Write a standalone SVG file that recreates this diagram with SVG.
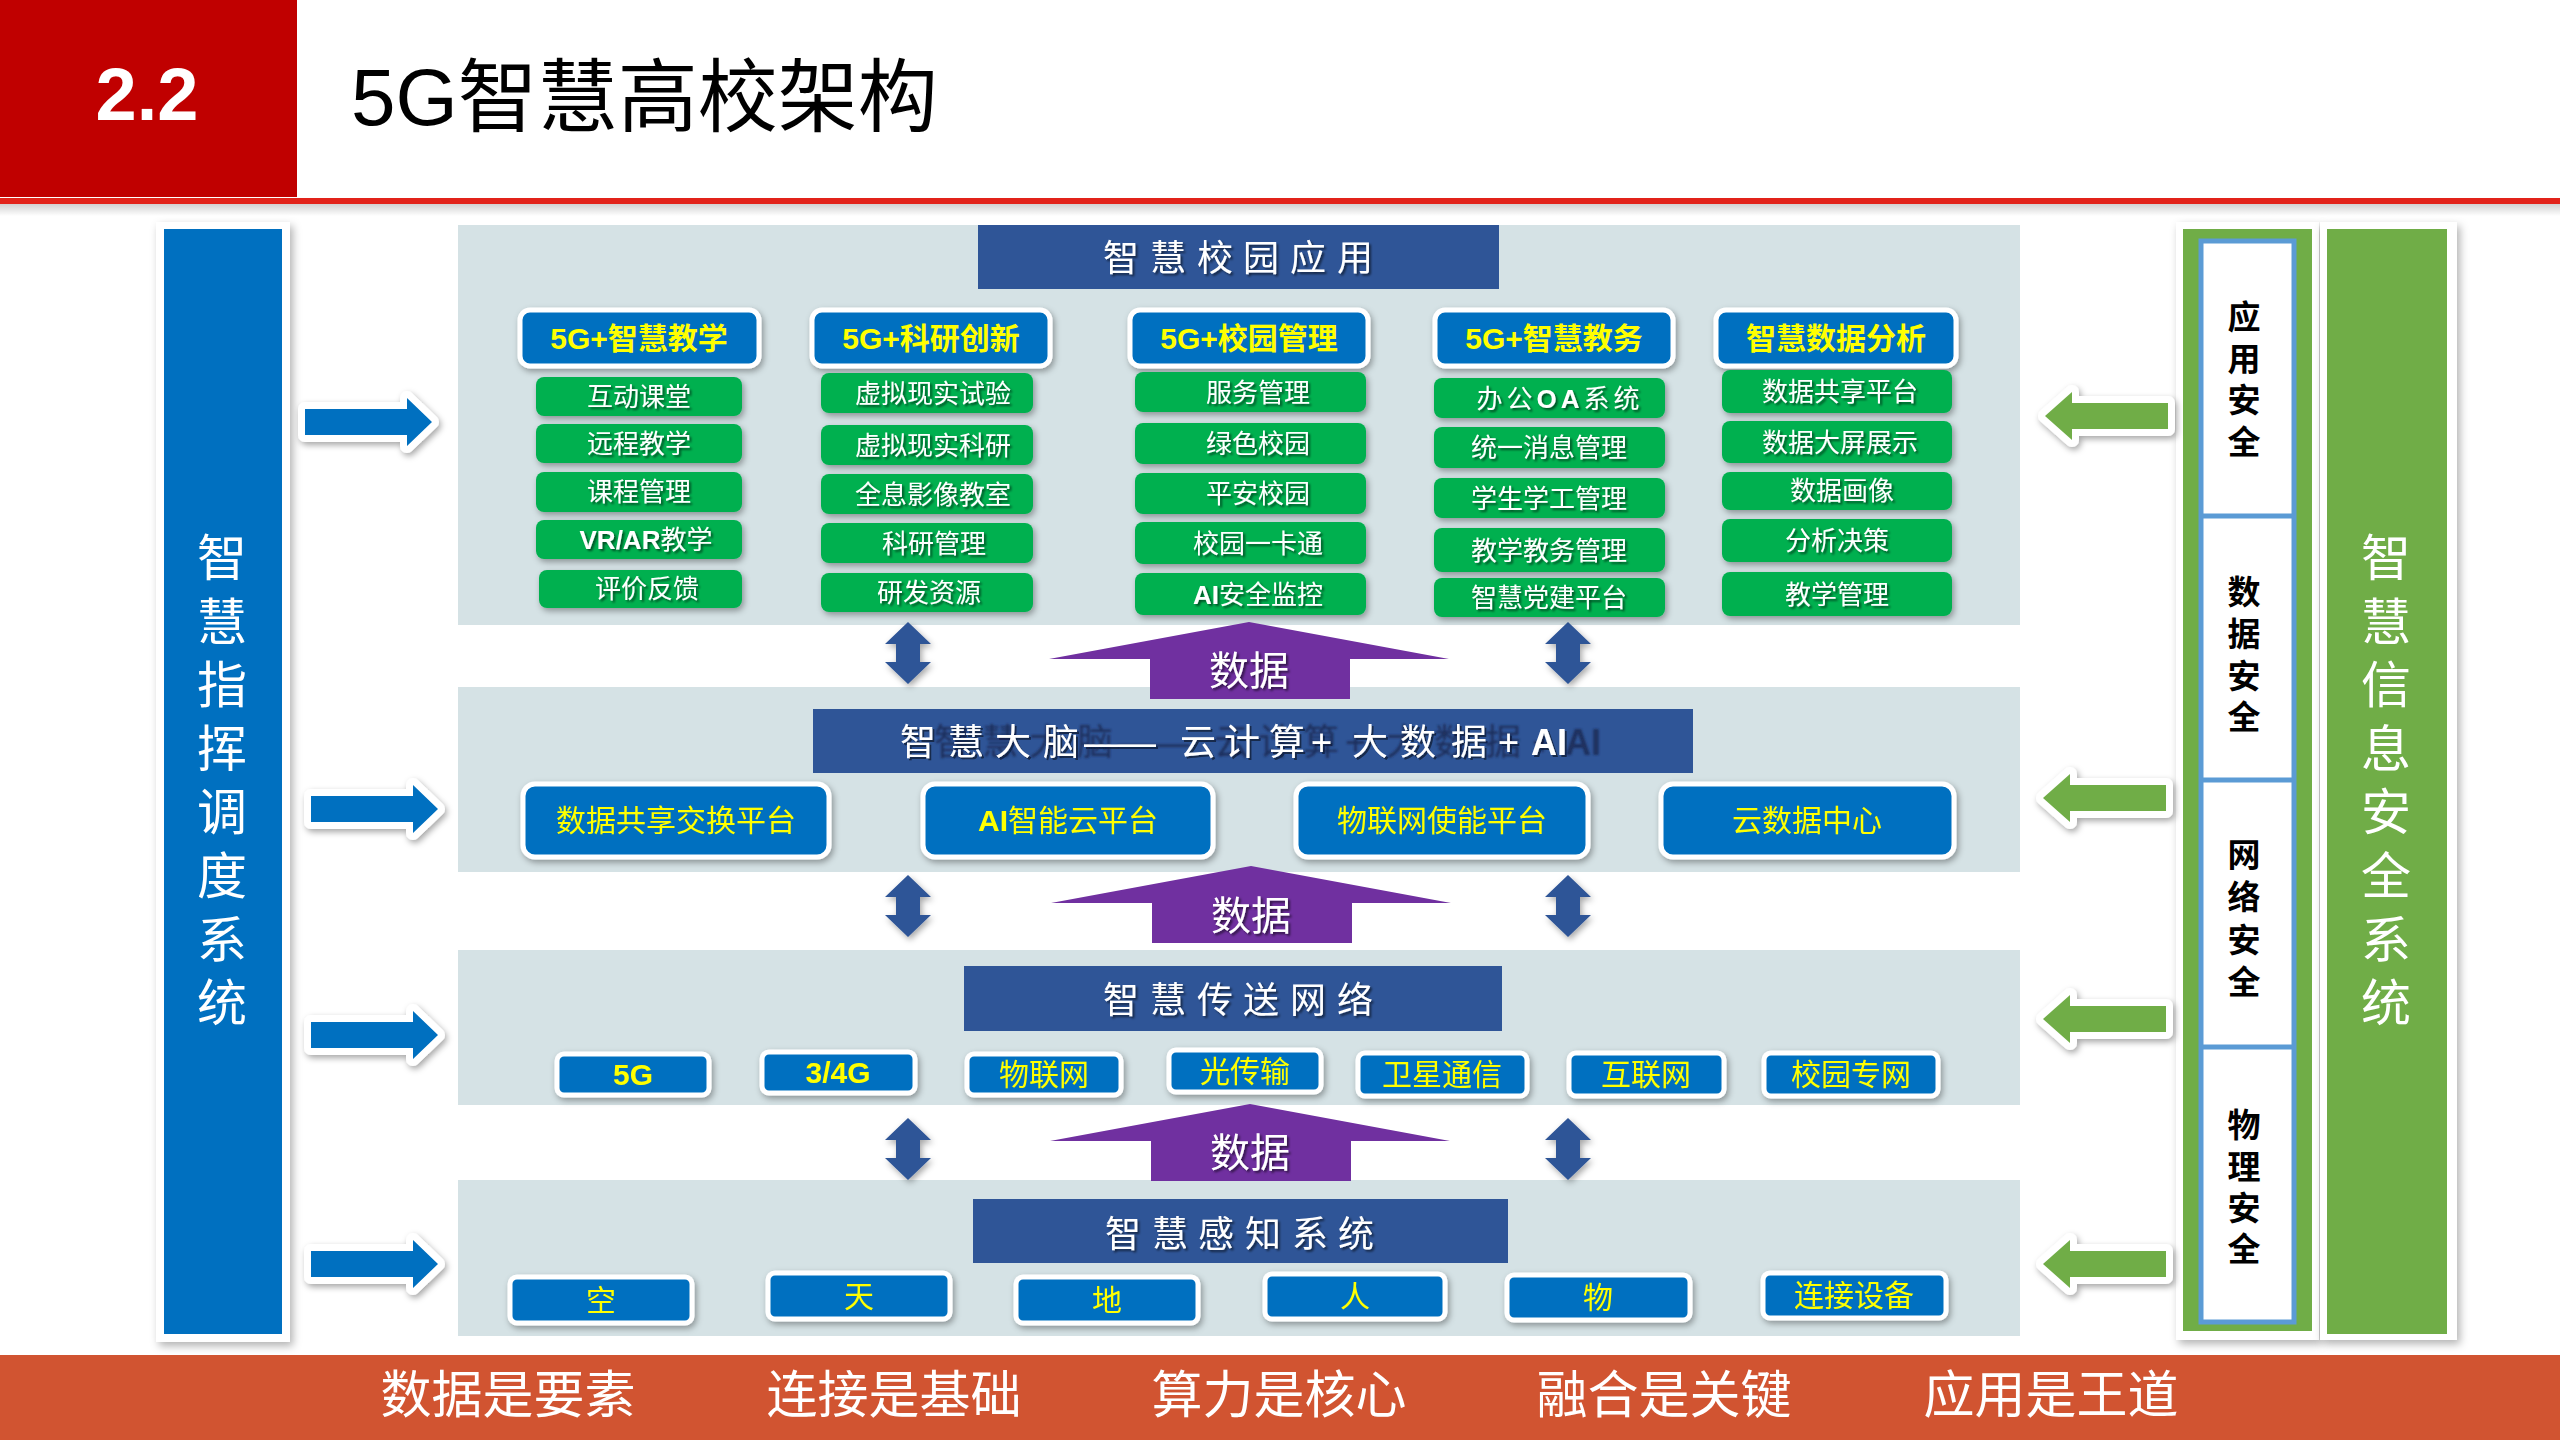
<svg xmlns="http://www.w3.org/2000/svg" xmlns:xlink="http://www.w3.org/1999/xlink" width="2560" height="1440" viewBox="0 0 2560 1440">
<defs>
<style>
text{font-family:"Liberation Sans","Noto Sans CJK SC",sans-serif}
.layer{fill:#d5e2e5}
.hdr{fill:#2f5597}
.hdrt{fill:#fff;font-size:36px}
.cat{fill:#0070c0;stroke:#fff;stroke-width:5}
.catt{fill:#ffff00;font-size:30px;font-weight:bold;text-anchor:middle}
.itm{fill:#00b050}
.itmt{fill:#fff;font-size:26px;text-anchor:middle}
.box{fill:#0070c0;stroke:#fff;stroke-width:5}
.boxt{fill:#ffff00;font-size:30px;text-anchor:middle}
.vt{fill:#fff;font-size:50px;text-anchor:middle}
.sec{fill:#000;font-size:33px;font-weight:bold;text-anchor:middle}
.bot{fill:#fff;font-size:51px;text-anchor:middle}
.pt{fill:#fff;font-size:40px;text-anchor:middle}
.b{font-weight:bold}
</style>
<filter id="sh" x="-10%" y="-20%" width="130%" height="150%"><feDropShadow dx="2" dy="3" stdDeviation="3" flood-color="#000" flood-opacity="0.35"/></filter>
<filter id="sh2" x="-10%" y="-10%" width="130%" height="130%"><feDropShadow dx="3" dy="4" stdDeviation="4" flood-color="#000" flood-opacity="0.3"/></filter>
<filter id="ts" x="-10%" y="-30%" width="130%" height="160%"><feDropShadow dx="2" dy="2" stdDeviation="1" flood-color="#000" flood-opacity="0.55"/></filter>
<filter id="ghost" x="-10%" y="-40%" width="130%" height="180%">
<feOffset in="SourceAlpha" dx="34" dy="0" result="o"/>
<feGaussianBlur in="o" stdDeviation="1.2" result="b"/>
<feFlood flood-color="#1c2c58" flood-opacity="0.9"/>
<feComposite in2="b" operator="in" result="g"/>
<feOffset in="SourceAlpha" dx="2" dy="2" result="o2"/>
<feFlood flood-color="#000" flood-opacity="0.5"/>
<feComposite in2="o2" operator="in" result="s"/>
<feMerge><feMergeNode in="g"/><feMergeNode in="s"/><feMergeNode in="SourceGraphic"/></feMerge>
</filter>
<linearGradient id="gsh" x1="0" y1="0" x2="0" y2="1"><stop offset="0" stop-color="#000" stop-opacity="0.18"/><stop offset="1" stop-color="#000" stop-opacity="0"/></linearGradient>
<path id="dArr" d="M0,0 L23,22 L12,22 L12,40 L23,40 L0,62 L-23,40 L-12,40 L-12,22 L-23,22 Z"/>
<path id="pArr" d="M0,0 L200,37 L101,37 L101,77 L-99,77 L-99,37 L-200,37 Z"/>
<path id="rArr" d="M0,0 L-25,-24 L-25,-13 L-127,-13 L-127,13 L-25,13 L-25,24 Z"/>
<path id="lArr" d="M0,0 L27,-24 L27,-13 L123,-13 L123,13 L27,13 L27,24 Z"/>
</defs>

<rect width="2560" height="1440" fill="#fff"/>

<g id="header">
<rect x="0" y="0" width="297" height="197" fill="#c00000"/>
<rect x="0" y="204" width="2560" height="12" fill="url(#gsh)"/>
<rect x="0" y="198" width="2560" height="6" fill="#e2231a"/>
<text x="147" y="120" fill="#fff" font-size="74" font-weight="bold" text-anchor="middle">2.2</text>
<text x="351" y="125" fill="#000" font-size="80">5G智慧高校架构</text>
</g>

<g id="layer-bgs">
<rect class="layer" x="458" y="225" width="1562" height="400"/>
<rect class="layer" x="458" y="687" width="1562" height="185"/>
<rect class="layer" x="458" y="950" width="1562" height="155"/>
<rect class="layer" x="458" y="1180" width="1562" height="156"/>
</g>

<g id="left-panel">
<rect x="156" y="222" width="134" height="1120" fill="#fff" filter="url(#sh2)"/>
<rect x="164" y="229" width="118" height="1105" fill="#0070c0"/>
<text class="vt"><tspan x="222" y="576">智</tspan><tspan x="222" y="640">慧</tspan><tspan x="222" y="703">指</tspan><tspan x="222" y="767">挥</tspan><tspan x="222" y="830">调</tspan><tspan x="222" y="894">度</tspan><tspan x="222" y="958">系</tspan><tspan x="222" y="1021">统</tspan></text>
</g>

<g id="security-layers">
<rect x="2176" y="222" width="143" height="1118" fill="#fff" filter="url(#sh2)"/>
<rect x="2183" y="229" width="129" height="1102" fill="#70ad47"/>
<rect x="2201" y="241" width="93" height="1081" fill="#fff" stroke="#5b9bd5" stroke-width="5"/>
<g stroke="#5b9bd5" stroke-width="5"><line x1="2201" y1="516" x2="2294" y2="516"/><line x1="2201" y1="780" x2="2294" y2="780"/><line x1="2201" y1="1047" x2="2294" y2="1047"/></g>
<text class="sec"><tspan x="2244" y="329">应</tspan><tspan x="2244" y="371">用</tspan><tspan x="2244" y="412">安</tspan><tspan x="2244" y="454">全</tspan></text>
<text class="sec"><tspan x="2244" y="604">数</tspan><tspan x="2244" y="646">据</tspan><tspan x="2244" y="688">安</tspan><tspan x="2244" y="729">全</tspan></text>
<text class="sec"><tspan x="2244" y="867">网</tspan><tspan x="2244" y="909">络</tspan><tspan x="2244" y="952">安</tspan><tspan x="2244" y="994">全</tspan></text>
<text class="sec"><tspan x="2244" y="1137">物</tspan><tspan x="2244" y="1179">理</tspan><tspan x="2244" y="1220">安</tspan><tspan x="2244" y="1261">全</tspan></text>
</g>

<g id="right-panel">
<rect x="2320" y="222" width="137" height="1118" fill="#fff" filter="url(#sh2)"/>
<rect x="2327" y="229" width="120" height="1105" fill="#70ad47"/>
<text class="vt"><tspan x="2386" y="576">智</tspan><tspan x="2386" y="640">慧</tspan><tspan x="2386" y="703">信</tspan><tspan x="2386" y="767">息</tspan><tspan x="2386" y="830">安</tspan><tspan x="2386" y="894">全</tspan><tspan x="2386" y="958">系</tspan><tspan x="2386" y="1021">统</tspan></text>
</g>

<g id="connectors">
<g fill="#2f5597" filter="url(#sh)">
<use xlink:href="#dArr" transform="translate(908,622)"/>
<use xlink:href="#dArr" transform="translate(1568,622)"/>
<use xlink:href="#dArr" transform="translate(908,875)"/>
<use xlink:href="#dArr" transform="translate(1568,875)"/>
<use xlink:href="#dArr" transform="translate(908,1118)"/>
<use xlink:href="#dArr" transform="translate(1568,1118)"/>
</g>
<g fill="#7030a0">
<use xlink:href="#pArr" transform="translate(1249,622)"/>
<use xlink:href="#pArr" transform="translate(1251,866)"/>
<use xlink:href="#pArr" transform="translate(1250,1104)"/>
</g>
<g filter="url(#ts)">
<text class="pt" x="1249" y="685">数据</text>
<text class="pt" x="1251" y="930">数据</text>
<text class="pt" x="1250" y="1167">数据</text>
</g>
<g fill="#0070c0" stroke="#fff" stroke-width="14" stroke-linejoin="round" paint-order="stroke" filter="url(#sh)">
<use xlink:href="#rArr" transform="translate(432,422)"/>
<use xlink:href="#rArr" transform="translate(438,809)"/>
<use xlink:href="#rArr" transform="translate(438,1035)"/>
<use xlink:href="#rArr" transform="translate(438,1264)"/>
</g>
<g fill="#70ad47" stroke="#fff" stroke-width="14" stroke-linejoin="round" paint-order="stroke" filter="url(#sh)">
<use xlink:href="#lArr" transform="translate(2045,416)"/>
<use xlink:href="#lArr" transform="translate(2043,798)"/>
<use xlink:href="#lArr" transform="translate(2043,1019)"/>
<use xlink:href="#lArr" transform="translate(2043,1264)"/>
</g>
</g>

<g id="layer-app">
<rect class="hdr" x="978" y="225" width="521" height="64"/>
<text class="hdrt" x="1103 1150 1197 1243 1290 1337" y="271" filter="url(#ts)">智慧校园应用</text>
<g id="cat-teach">
<rect class="cat" x="520" y="310" width="239" height="56" rx="10" filter="url(#sh)"/>
<text class="catt" x="639" y="349">5G+智慧教学</text>
<g filter="url(#sh)">
<rect class="itm" x="536" y="377" width="206" height="39" rx="8"/>
<rect class="itm" x="536" y="424" width="206" height="39" rx="8"/>
<rect class="itm" x="536" y="472" width="206" height="40" rx="8"/>
<rect class="itm" x="536" y="520" width="206" height="39" rx="8"/>
<rect class="itm" x="539" y="570" width="203" height="38" rx="8"/>
</g>
<g filter="url(#ts)">
<text class="itmt" x="639" y="406">互动课堂</text>
<text class="itmt" x="639" y="453">远程教学</text>
<text class="itmt" x="639" y="501">课程管理</text>
<text class="itmt" x="646" y="549"><tspan class="b">VR/AR</tspan>教学</text>
<text class="itmt" x="647" y="598">评价反馈</text>
</g>
</g>
<g id="cat-research">
<rect class="cat" x="812" y="310" width="238" height="56" rx="10" filter="url(#sh)"/>
<text class="catt" x="931" y="349">5G+科研创新</text>
<g filter="url(#sh)">
<rect class="itm" x="821" y="373" width="212" height="40" rx="8"/>
<rect class="itm" x="821" y="425" width="212" height="40" rx="8"/>
<rect class="itm" x="821" y="474" width="212" height="40" rx="8"/>
<rect class="itm" x="821" y="523" width="212" height="40" rx="8"/>
<rect class="itm" x="821" y="573" width="212" height="39" rx="8"/>
</g>
<g filter="url(#ts)">
<text class="itmt" x="933" y="403">虚拟现实试验</text>
<text class="itmt" x="933" y="455">虚拟现实科研</text>
<text class="itmt" x="933" y="504">全息影像教室</text>
<text class="itmt" x="934" y="553">科研管理</text>
<text class="itmt" x="929" y="602">研发资源</text>
</g>
</g>
<g id="cat-manage">
<rect class="cat" x="1130" y="310" width="238" height="56" rx="10" filter="url(#sh)"/>
<text class="catt" x="1249" y="349">5G+校园管理</text>
<g filter="url(#sh)">
<rect class="itm" x="1135" y="372" width="231" height="40" rx="8"/>
<rect class="itm" x="1135" y="423" width="231" height="41" rx="8"/>
<rect class="itm" x="1135" y="473" width="231" height="41" rx="8"/>
<rect class="itm" x="1135" y="522" width="231" height="42" rx="8"/>
<rect class="itm" x="1135" y="573" width="231" height="42" rx="8"/>
</g>
<g filter="url(#ts)">
<text class="itmt" x="1258" y="402">服务管理</text>
<text class="itmt" x="1258" y="453">绿色校园</text>
<text class="itmt" x="1258" y="503">平安校园</text>
<text class="itmt" x="1258" y="553">校园一卡通</text>
<text class="itmt" x="1258" y="604"><tspan class="b">AI</tspan>安全监控</text>
</g>
</g>
<g id="cat-affairs">
<rect class="cat" x="1435" y="310" width="238" height="56" rx="10" filter="url(#sh)"/>
<text class="catt" x="1554" y="349">5G+智慧教务</text>
<g filter="url(#sh)">
<rect class="itm" x="1434" y="378" width="231" height="40" rx="8"/>
<rect class="itm" x="1434" y="427" width="231" height="41" rx="8"/>
<rect class="itm" x="1434" y="478" width="231" height="40" rx="8"/>
<rect class="itm" x="1434" y="528" width="231" height="44" rx="8"/>
<rect class="itm" x="1434" y="578" width="231" height="39" rx="8"/>
</g>
<g filter="url(#ts)">
<text class="itmt" x="1560" y="408" letter-spacing="4">办公<tspan class="b">OA</tspan>系统</text>
<text class="itmt" x="1549" y="457">统一消息管理</text>
<text class="itmt" x="1549" y="508">学生学工管理</text>
<text class="itmt" x="1549" y="560">教学教务管理</text>
<text class="itmt" x="1549" y="607">智慧党建平台</text>
</g>
</g>
<g id="cat-data">
<rect class="cat" x="1716" y="310" width="240" height="56" rx="10" filter="url(#sh)"/>
<text class="catt" x="1836" y="349">智慧数据分析</text>
<g filter="url(#sh)">
<rect class="itm" x="1722" y="370" width="230" height="43" rx="8"/>
<rect class="itm" x="1722" y="421" width="230" height="42" rx="8"/>
<rect class="itm" x="1722" y="472" width="230" height="38" rx="8"/>
<rect class="itm" x="1722" y="519" width="230" height="43" rx="8"/>
<rect class="itm" x="1722" y="572" width="230" height="44" rx="8"/>
</g>
<g filter="url(#ts)">
<text class="itmt" x="1840" y="401">数据共享平台</text>
<text class="itmt" x="1840" y="452">数据大屏展示</text>
<text class="itmt" x="1842" y="500">数据画像</text>
<text class="itmt" x="1837" y="550">分析决策</text>
<text class="itmt" x="1837" y="604">教学管理</text>
</g>
</g>
</g>

<g id="layer-brain">
<rect class="hdr" x="813" y="709" width="880" height="64"/>
<text class="hdrt" y="755" filter="url(#ghost)"><tspan x="900 948 995 1043">智慧大脑</tspan><tspan x="1084 1120">——</tspan><tspan x="1180 1224 1269 1311 1352 1400 1451 1498">云计算+大数据+</tspan><tspan class="b" x="1531">AI</tspan></text>
<g filter="url(#sh)">
<rect class="box" x="523" y="784" width="306" height="73" rx="12"/>
<rect class="box" x="923" y="784" width="290" height="73" rx="12"/>
<rect class="box" x="1296" y="784" width="292" height="73" rx="12"/>
<rect class="box" x="1661" y="784" width="293" height="73" rx="12"/>
</g>
<text class="boxt" x="676" y="831">数据共享交换平台</text>
<text class="boxt" x="1068" y="831"><tspan class="b">AI</tspan>智能云平台</text>
<text class="boxt" x="1442" y="831">物联网使能平台</text>
<text class="boxt" x="1807" y="831">云数据中心</text>
</g>

<g id="layer-network">
<rect class="hdr" x="964" y="966" width="538" height="65"/>
<text class="hdrt" x="1103 1150 1197 1243 1290 1337" y="1013" filter="url(#ts)">智慧传送网络</text>
<g filter="url(#sh)">
<rect class="box" x="557" y="1054" width="152" height="41" rx="7"/>
<rect class="box" x="762" y="1052" width="153" height="41" rx="7"/>
<rect class="box" x="967" y="1054" width="154" height="41" rx="7"/>
<rect class="box" x="1169" y="1050" width="152" height="42" rx="7"/>
<rect class="box" x="1358" y="1053" width="169" height="43" rx="7"/>
<rect class="box" x="1569" y="1053" width="155" height="43" rx="7"/>
<rect class="box" x="1764" y="1053" width="174" height="43" rx="7"/>
</g>
<text class="boxt b" x="633" y="1085">5G</text>
<text class="boxt b" x="838" y="1083">3/4G</text>
<text class="boxt" x="1044" y="1085">物联网</text>
<text class="boxt" x="1245" y="1082">光传输</text>
<text class="boxt" x="1442" y="1085">卫星通信</text>
<text class="boxt" x="1646" y="1085">互联网</text>
<text class="boxt" x="1851" y="1085">校园专网</text>
</g>

<g id="layer-sensing">
<rect class="hdr" x="973" y="1199" width="535" height="64"/>
<text class="hdrt" x="1105 1152 1198 1245 1292 1338" y="1247" filter="url(#ts)">智慧感知系统</text>
<g filter="url(#sh)">
<rect class="box" x="510" y="1277" width="182" height="46" rx="7"/>
<rect class="box" x="768" y="1273" width="182" height="46" rx="7"/>
<rect class="box" x="1016" y="1277" width="182" height="46" rx="7"/>
<rect class="box" x="1265" y="1274" width="180" height="45" rx="7"/>
<rect class="box" x="1507" y="1275" width="183" height="45" rx="7"/>
<rect class="box" x="1763" y="1273" width="183" height="45" rx="7"/>
</g>
<text class="boxt" x="601" y="1311">空</text>
<text class="boxt" x="859" y="1307">天</text>
<text class="boxt" x="1107" y="1311">地</text>
<text class="boxt" x="1355" y="1307">人</text>
<text class="boxt" x="1598" y="1308">物</text>
<text class="boxt" x="1854" y="1306">连接设备</text>
</g>

<g id="footer">
<rect x="0" y="1355" width="2560" height="85" fill="#d15431"/>
<text class="bot" x="508" y="1413">数据是要素</text>
<text class="bot" x="894" y="1413">连接是基础</text>
<text class="bot" x="1279" y="1413">算力是核心</text>
<text class="bot" x="1664" y="1413">融合是关键</text>
<text class="bot" x="2051" y="1413">应用是王道</text>
</g>
</svg>
